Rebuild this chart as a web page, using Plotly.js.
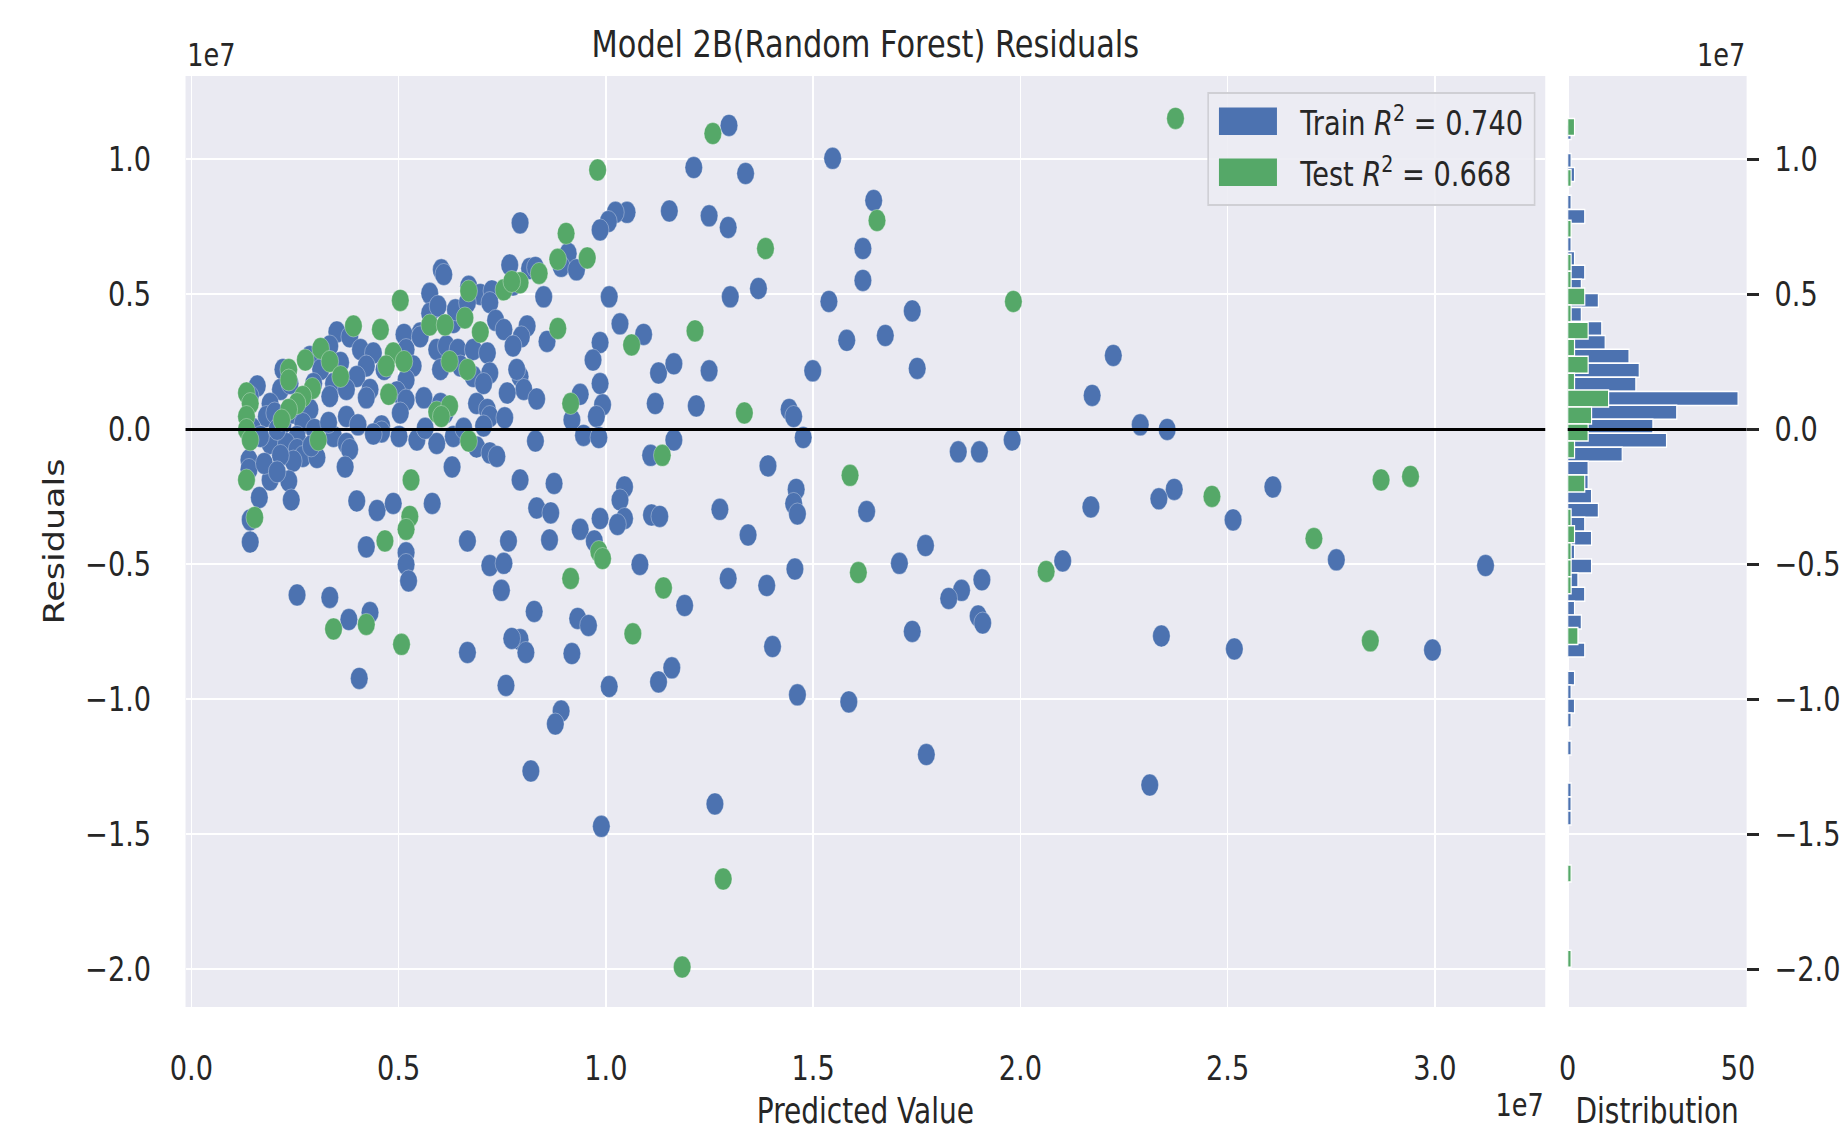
<!DOCTYPE html>
<html>
<head>
<meta charset="utf-8">
<script src="https://cdn.plot.ly/plotly-3.0.1.min.js"></script>
<style>
  html, body { margin: 0; padding: 0; background: #ffffff; overflow: hidden; }
  #wrap { width: 1841px; height: 1131px; overflow: hidden; position: relative; }
  #plot { width: 2301px; height: 1131px; transform: scaleX(0.8001); transform-origin: 0 0; }
</style>
</head>
<body>
<div id="wrap"><div id="plot"></div></div>
<script>
// ---- DATA (values in units of 1e7) ----
const trainPredicted = [
1.297,1.212,1.337,1.547,1.646,1.249,1.295,1.153,1.051,1.023,1.006,0.986,1.620,1.620,1.368,1.300,1.538,1.739,1.674,1.581,
2.224,1.499,1.751,1.249,2.173,1.442,1.453,2.289,2.354,1.980,1.476,1.850,1.901,1.391,2.371,2.334,2.609,1.459,1.453,1.462,
2.170,2.513,1.629,1.771,2.102,2.762,1.708,1.456,1.907,3.122,1.858,1.827,1.898,1.909,1.739,2.340,2.516,2.994,1.462,1.586,
1.773,2.312,1.263,0.989,
0.793,0.816,0.830,0.909,0.892,0.929,0.850,1.008,0.810,0.796,0.858,1.034,1.091,0.986,0.969,1.127,1.164,0.793,0.802,0.833,
0.986,0.938,0.992,0.977,0.918,0.946,0.983,1.119,1.218,0.830,1.164,1.108,0.793,0.875,0.833,0.867,1.045,1.034,0.986,0.938,
0.972,1.045,1.028,1.110,1.130,0.864,1.275,1.343,1.082,1.295,1.388,1.190,0.827,0.932,0.958,0.793,0.807,0.918,1.402,1.159,
1.127,1.008,0.892,0.878,0.819,
0.603,0.609,0.768,0.575,0.669,0.697,0.725,0.720,0.776,0.552,0.575,0.595,0.632,0.637,0.666,0.734,0.754,0.776,0.785,0.762,
0.592,0.615,0.643,0.680,0.714,0.601,0.649,0.680,0.720,0.705,0.513,0.552,0.518,0.535,0.518,0.561,0.601,0.612,0.688,0.714,
0.720,0.705,0.496,0.518,0.504,0.459,0.351,0.382,0.408,0.439,0.422,0.399,0.431,0.465,0.334,0.360,0.343,0.334,0.374,0.374,
0.422,0.286,0.312,0.295,0.221,0.215,0.238,0.190,0.181,0.201,0.221,0.246,0.263,0.286,0.269,0.255,0.159,0.142,0.343,0.374,
0.139,0.139,0.190,0.229,0.255,0.269,0.246,0.215,0.303,0.382,0.371,0.190,0.235,0.241,0.164,0.142,0.142,0.399,0.448,0.487,
0.581,0.422,0.459,0.544,0.592,0.632,0.629,0.688,0.720,0.737,0.666,0.765,0.720,0.754,0.748,0.518,0.518,0.524,0.255,0.334,
0.380,0.431,0.405,0.773,0.666,0.759,
0.147,0.167,0.207,0.297,0.331,0.402,0.439,0.501,0.564,0.657,0.756,0.289,0.176,0.207
];
const trainResiduals = [
1.126,0.970,0.948,1.004,0.848,0.791,0.748,0.809,0.804,0.804,0.770,0.739,0.670,0.552,0.522,0.491,0.474,0.439,0.348,0.330,
0.274,0.217,0.226,0.217,0.126,0.074,0.048,0.017,0.000,-0.039,-0.030,-0.083,-0.083,-0.135,-0.222,-0.257,-0.213,-0.222,-0.274,-0.313,
-0.287,-0.335,-0.304,-0.430,-0.487,-0.483,-0.496,-0.517,-0.557,-0.504,-0.596,-0.626,-0.691,-0.717,-0.748,-0.765,-0.813,-0.817,-0.983,-1.009,
-1.204,-1.317,-1.387,-1.470,
0.765,0.596,0.600,0.652,0.604,0.591,0.491,0.491,0.383,0.343,0.326,0.391,0.352,0.322,0.257,0.209,0.243,0.196,0.148,0.113,
0.170,0.130,0.091,0.048,0.035,-0.022,-0.030,0.096,0.087,-0.043,-0.039,-0.096,-0.187,-0.200,-0.291,-0.309,-0.213,-0.261,-0.330,-0.370,
-0.413,-0.330,-0.352,-0.317,-0.322,-0.409,-0.296,-0.391,-0.500,-0.552,-0.578,-0.652,-0.674,-0.700,-0.726,-0.778,-0.826,-0.830,-0.804,-0.883,
-0.935,-0.952,-1.043,-1.091,-1.265,
0.591,0.574,0.609,0.504,0.530,0.500,0.513,0.470,0.535,0.357,0.430,0.457,0.396,0.443,0.470,0.404,0.370,0.309,0.222,0.135,
0.296,0.309,0.296,0.296,0.283,0.222,0.235,0.196,0.209,0.170,0.352,0.343,0.296,0.235,0.183,0.117,0.096,0.061,0.096,0.074,
0.048,0.013,0.139,0.109,0.061,0.013,0.361,0.343,0.296,0.283,0.235,0.196,0.148,0.222,0.309,0.248,0.170,0.122,0.148,0.048,
0.117,0.270,0.222,0.170,0.222,0.148,0.170,0.096,0.048,0.061,0.022,0.061,0.096,0.074,0.022,-0.026,0.161,0.122,-0.026,-0.052,
-0.113,-0.148,-0.052,-0.052,-0.074,-0.100,-0.117,-0.096,-0.104,-0.074,-0.139,-0.187,-0.191,-0.261,-0.252,-0.335,-0.417,-0.265,-0.300,-0.274,
-0.274,-0.435,-0.009,-0.039,-0.052,-0.026,-0.139,-0.065,-0.087,-0.100,-0.413,-0.413,-0.504,-0.496,-0.596,-0.457,-0.500,-0.561,-0.613,-0.622,
-0.704,-0.678,-0.922,-0.774,-0.826,-0.948,
0.004,-0.026,0.000,0.000,0.026,0.017,-0.017,-0.026,0.004,0.004,0.043,-0.061,-0.126,-0.157
];
const testPredicted = [
2.374,1.258,0.980,1.654,1.385,1.983,0.904,0.884,0.955,0.839,0.793,0.884,1.062,1.215,0.915,1.334,1.136,1.589,0.983,0.992,
0.915,1.139,1.609,1.065,1.283,1.184,2.062,2.462,2.708,2.870,2.941,2.844,0.504,0.391,0.456,0.669,0.754,0.773,0.575,0.612,
0.660,0.697,0.487,0.470,0.513,0.623,0.666,0.312,0.334,0.360,0.275,0.235,0.235,0.292,0.269,0.255,0.235,0.218,0.133,0.142,
0.133,0.133,0.142,0.476,0.592,0.623,0.603,0.306,0.669,0.133,0.153,0.530,0.527,0.518,0.467,0.343,0.422,0.507
];
const testResiduals = [
1.152,1.096,0.961,0.774,0.670,0.474,0.726,0.630,0.635,0.578,0.543,0.374,0.313,0.365,0.096,0.061,-0.096,-0.170,-0.452,-0.478,
-0.552,-0.587,-0.530,-0.757,-1.665,-1.991,-0.526,-0.248,-0.404,-0.187,-0.174,-0.783,0.478,0.383,0.370,0.513,0.517,0.548,0.387,0.387,
0.413,0.361,0.283,0.235,0.252,0.252,0.222,0.300,0.252,0.196,0.257,0.222,0.183,0.152,0.122,0.096,0.074,0.035,0.135,0.096,
0.048,0.000,-0.039,0.130,0.065,0.087,0.048,-0.039,-0.043,-0.187,-0.326,-0.187,-0.322,-0.370,-0.413,-0.739,-0.722,-0.796
];

// Histogram of residuals (bin centre in 1e7, count)
const trainBinCenters = [1.100,0.996,0.944,0.841,0.789,0.737,0.685,0.633,0.582,0.530,0.478,0.426,0.374,0.322,0.271,0.219,0.167,0.115,0.064,0.012,
  -0.040,-0.092,-0.144,-0.195,-0.247,-0.299,-0.351,-0.403,-0.454,-0.506,-0.558,-0.610,-0.662,-0.713,-0.765,-0.817,-0.921,-0.972,-1.024,-1.076,
  -1.180,-1.335,-1.387,-1.439];
const trainBinCounts = [1,1,2,1,5,1,1,2,5,4,9,4,10,11,18,21,20,50,32,25,
  29,16,6,6,7,9,5,7,2,7,3,5,2,4,3,5,2,1,2,1,
  1,1,1,1];
const trainBinWidth = 0.0518;
const testBinCenters = [1.120,0.931,0.743,0.617,0.554,0.492,0.429,0.366,0.303,0.240,0.177,0.115,0.052,-0.011,-0.074,-0.200,-0.326,-0.388,-0.451,-0.514,
  -0.577,-0.765,-1.645,-1.960];
const testBinCounts = [2,1,1,1,1,5,1,6,2,6,2,12,7,6,2,5,1,2,1,1,
  1,3,1,1];
const testBinWidth = 0.0629;

const xTickVals = [0, 0.5, 1.0, 1.5, 2.0, 2.5, 3.0];
const xTickText = ['0.0', '0.5', '1.0', '1.5', '2.0', '2.5', '3.0'];
const yTickVals = [1.0, 0.5, 0.0, -0.5, -1.0, -1.5, -2.0];
const yTickText = ['1.0', '0.5', '0.0', '\u22120.5', '\u22121.0', '\u22121.5', '\u22122.0'];
const histTickVals = [0, 50];
const histTickText = ['0', '50'];

const trainLabel = 'Train <i>R</i><sup>2</sup> = 0.740';
const testLabel = 'Test <i>R</i><sup>2</sup> = 0.668';
const titleText = 'Model 2B(Random Forest) Residuals';

// ---- STYLE ----
const BLUE = '#4C72B0', GREEN = '#55A868', BG = '#EAEAF2', INK = '#262626';
const FONT = 'DejaVu Sans, Verdana, sans-serif';

const traces = [
  { type: 'scatter', mode: 'markers', x: trainPredicted, y: trainResiduals, xaxis: 'x', yaxis: 'y',
    marker: { color: BLUE, size: 22, line: { width: 1, color: 'rgba(255,255,255,0.35)' } }, showlegend: false, hoverinfo: 'skip' },
  { type: 'scatter', mode: 'markers', x: testPredicted, y: testResiduals, xaxis: 'x', yaxis: 'y',
    marker: { color: GREEN, size: 22, line: { width: 1, color: 'rgba(255,255,255,0.35)' } }, showlegend: false, hoverinfo: 'skip' },
  { type: 'bar', orientation: 'h', x: trainBinCounts, y: trainBinCenters, width: trainBinWidth, xaxis: 'x2', yaxis: 'y2',
    marker: { color: BLUE, line: { color: '#ffffff', width: 1.5 } }, showlegend: false, hoverinfo: 'skip' },
  { type: 'bar', orientation: 'h', x: testBinCounts, y: testBinCenters, width: testBinWidth, xaxis: 'x2', yaxis: 'y2',
    marker: { color: GREEN, line: { color: '#ffffff', width: 1.5 } }, showlegend: false, hoverinfo: 'skip' }
];

const W = 2301, H = 1131;
const px = v => v / W;          // pre-transform x pixel -> paper
const py = v => 1 - v / H;      // y pixel from top -> paper
const mainX = [231.9 / W, 1931.3 / W];
const histX = [1959.4 / W, 2183 / W];
const plotY = [py(1007), py(76)];

const tickFont = { family: FONT, size: 34, color: INK };

const layout = {
  width: W, height: H,
  margin: { l: 0, r: 0, t: 0, b: 0 },
  paper_bgcolor: '#ffffff', plot_bgcolor: BG,
  barmode: 'overlay', bargap: 0,
  font: { family: FONT, color: INK },
  title: { text: titleText, x: (mainX[0] + mainX[1]) / 2, xanchor: 'center', xref: 'paper',
           y: py(44), yanchor: 'middle', yref: 'paper', font: { family: FONT, size: 38, color: INK } },
  xaxis: { domain: mainX, anchor: 'y', range: [-0.014, 3.266], tickmode: 'array', tickvals: xTickVals, ticktext: xTickText,
           showgrid: true, gridcolor: '#ffffff', gridwidth: 2, zeroline: false, showline: false, ticks: '',
           ticklabelstandoff: 38, tickfont: tickFont,
           title: { text: 'Predicted Value', font: { family: FONT, size: 35, color: INK }, standoff: 14 } },
  yaxis: { domain: plotY, anchor: 'x', range: [-2.139, 1.309], tickmode: 'array', tickvals: yTickVals, ticktext: yTickText,
           showgrid: true, gridcolor: '#ffffff', gridwidth: 2, zeroline: false, showline: false, ticks: '',
           ticklabelstandoff: 42, tickfont: tickFont,
           title: { text: 'Residuals', font: { family: FONT, size: 35, color: INK }, standoff: 14 } },
  xaxis2: { domain: histX, anchor: 'y2', range: [0, 52.5], tickmode: 'array', tickvals: histTickVals, ticktext: histTickText,
            showgrid: false, zeroline: true, zerolinecolor: '#ffffff', zerolinewidth: 2, showline: false, ticks: '',
            ticklabelstandoff: 38, tickfont: tickFont,
            title: { text: 'Distribution', font: { family: FONT, size: 35, color: INK }, standoff: 14 } },
  yaxis2: { domain: plotY, anchor: 'x2', side: 'right', range: [-2.139, 1.309], tickmode: 'array', tickvals: yTickVals, ticktext: yTickText,
            showgrid: true, gridcolor: '#ffffff', gridwidth: 2, zeroline: false, showline: false,
            ticks: 'outside', ticklen: 15, tickwidth: 3, tickcolor: INK, ticklabelstandoff: 12, tickfont: tickFont },
  shapes: [
    { type: 'line', xref: 'x domain', yref: 'y', x0: 0, x1: 1, y0: 0, y1: 0, line: { color: '#000000', width: 3 }, layer: 'above' },
    { type: 'line', xref: 'x2 domain', yref: 'y2', x0: 0, x1: 1, y0: 0, y1: 0, line: { color: '#000000', width: 3 }, layer: 'above' },
    // legend frame and patches
    { type: 'rect', xref: 'paper', yref: 'paper', x0: px(1510), x1: px(1918), y0: py(205), y1: py(93),
      fillcolor: 'rgba(236,236,243,0.9)', line: { color: '#cfcfd4', width: 2 }, layer: 'above' },
    { type: 'rect', xref: 'paper', yref: 'paper', x0: px(1523.5), x1: px(1596), y0: py(135), y1: py(107.5),
      fillcolor: BLUE, line: { width: 0 }, layer: 'above' },
    { type: 'rect', xref: 'paper', yref: 'paper', x0: px(1523.5), x1: px(1596), y0: py(186), y1: py(158.5),
      fillcolor: GREEN, line: { width: 0 }, layer: 'above' }
  ],
  annotations: [
    { text: trainLabel, xref: 'paper', yref: 'paper', x: px(1622), y: py(121), xanchor: 'left', yanchor: 'middle',
      showarrow: false, font: { family: FONT, size: 34, color: INK } },
    { text: testLabel, xref: 'paper', yref: 'paper', x: px(1622), y: py(172), xanchor: 'left', yanchor: 'middle',
      showarrow: false, font: { family: FONT, size: 34, color: INK } },
    { text: '1e7', xref: 'paper', yref: 'paper', x: mainX[0], y: py(55), xanchor: 'left', yanchor: 'middle',
      showarrow: false, font: { family: FONT, size: 32, color: INK } },
    { text: '1e7', xref: 'paper', yref: 'paper', x: histX[1], y: py(55), xanchor: 'right', yanchor: 'middle',
      showarrow: false, font: { family: FONT, size: 32, color: INK } },
    { text: '1e7', xref: 'paper', yref: 'paper', x: mainX[1], y: py(1105), xanchor: 'right', yanchor: 'middle',
      showarrow: false, font: { family: FONT, size: 32, color: INK } }
  ]
};

Plotly.newPlot('plot', traces, layout, { staticPlot: true, displayModeBar: false });
</script>
</body>
</html>
